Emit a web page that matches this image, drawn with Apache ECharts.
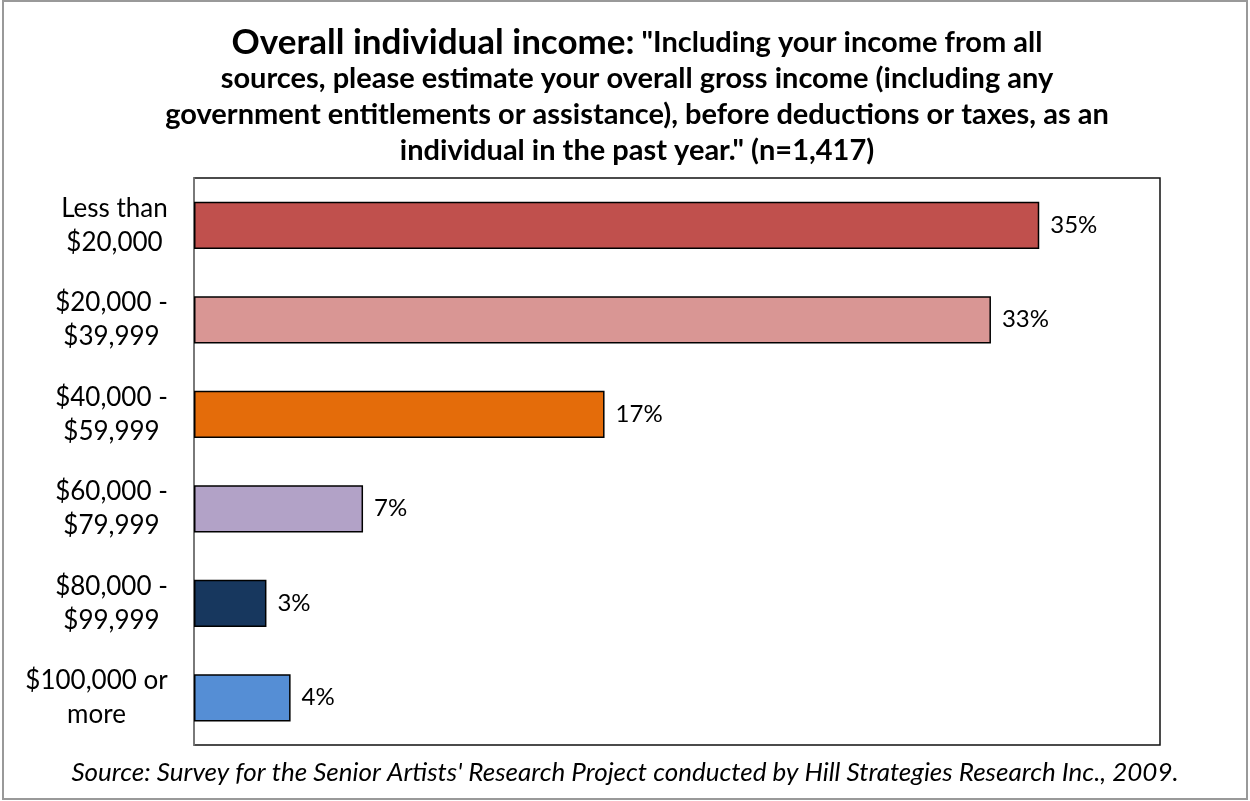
<!DOCTYPE html>
<html>
<head>
<meta charset="utf-8">
<script src="https://cdn.jsdelivr.net/npm/echarts@6/dist/echarts.min.js"></script>
<style>
  html, body { margin: 0; padding: 0; background: #fff; }
  #chart { width: 1250px; height: 801px; }
</style>
</head>
<body>
<div id="chart"></div>
<script>
// Income brackets, top to bottom
const categories = [
  'Less than\n$20,000',
  '$20,000 -\n$39,999',
  '$40,000 -\n$59,999',
  '$60,000 -\n$79,999',
  '$80,000 -\n$99,999',
  '$100,000 or\nmore'
];
// Share of respondents (%)
const shares = [35, 33, 17, 7, 3, 4];
const barColors = ['#C0504D', '#D99694', '#E46C0A', '#B2A2C7', '#17375E', '#558ED5'];

const titleLead = 'Overall individual income:';
const titleLines = [
  ' "Including your income from all',
  'sources, please estimate your overall gross income (including any',
  'government entitlements or assistance), before deductions or taxes, as an',
  'individual in the past year." (n=1,417)'
];
const sourceNote = "Source: Survey for the Senior Artists' Research Project conducted by Hill Strategies Research Inc., 2009.";

const FONT = 'Lato, "Open Sans", sans-serif';
const LABEL_SIZE = 26;

// Each category label is a centred block of lines, right-aligned against the axis.
const measureCtx = document.createElement('canvas').getContext('2d');
measureCtx.font = LABEL_SIZE + 'px ' + FONT;
const labelRich = {};
categories.forEach((cat, i) => {
  const w = Math.max(...cat.split('\n').map(s => measureCtx.measureText(s).width));
  labelRich['c' + i] = {
    width: Math.ceil(w) + 2,
    align: 'center',
    fontFamily: FONT,
    fontSize: LABEL_SIZE,
    lineHeight: 34,
    color: '#000'
  };
});

const chart = echarts.init(document.getElementById('chart'));

const titleRich = '{lead|' + titleLead + '}{q|' + titleLines[0] + '}\n{q|' +
  titleLines.slice(1).join('}\n{q|') + '}';

chart.setOption({
  backgroundColor: '#fff',
  animation: false,
  grid: {
    left: 194, top: 178, right: 90, bottom: 56,
    show: true, borderColor: '#111', borderWidth: 1.5, backgroundColor: '#fff'
  },
  xAxis: {
    type: 'value', min: 0, max: 40, show: false
  },
  yAxis: {
    type: 'category',
    data: categories,
    inverse: true,
    axisLine: { show: true, lineStyle: { color: '#888', width: 1.5 } },
    axisTick: { show: false },
    axisLabel: {
      margin: 25,
      align: 'right',
      formatter: (v, idx) => v.split('\n').map(s => '{c' + idx + '|' + s + '}').join('\n'),
      rich: labelRich
    }
  },
  series: [{
    type: 'bar',
    data: shares.map((v, i) => ({ value: v, itemStyle: { color: barColors[i] } })),
    barCategoryGap: '50%',
    itemStyle: { borderColor: '#000', borderWidth: 1.5 },
    label: {
      show: true,
      position: 'right',
      distance: 11,
      formatter: '{c}%',
      fontFamily: FONT,
      fontSize: 24,
      color: '#000'
    }
  }],
  graphic: [
    {
      type: 'rect',
      shape: { x: 3, y: 1, width: 1244, height: 798 },
      style: { fill: 'none', stroke: '#999', lineWidth: 2 },
      silent: true
    },
    {
      type: 'text',
      x: 637,
      y: 25,
      style: {
        text: titleRich,
        align: 'center',
        verticalAlign: 'top',
        rich: {
          lead: { fontFamily: FONT, fontWeight: 'bold', fontSize: 35, fill: '#000', lineHeight: 36 },
          q: { fontFamily: FONT, fontWeight: 'bold', fontSize: 29, fill: '#000', lineHeight: 36 }
        }
      }
    },
    {
      type: 'text',
      x: 625,
      y: 773,
      style: {
        text: sourceNote,
        align: 'center',
        verticalAlign: 'middle',
        font: 'italic 26px ' + FONT,
        fill: '#000'
      }
    }
  ]
});
</script>
</body>
</html>
